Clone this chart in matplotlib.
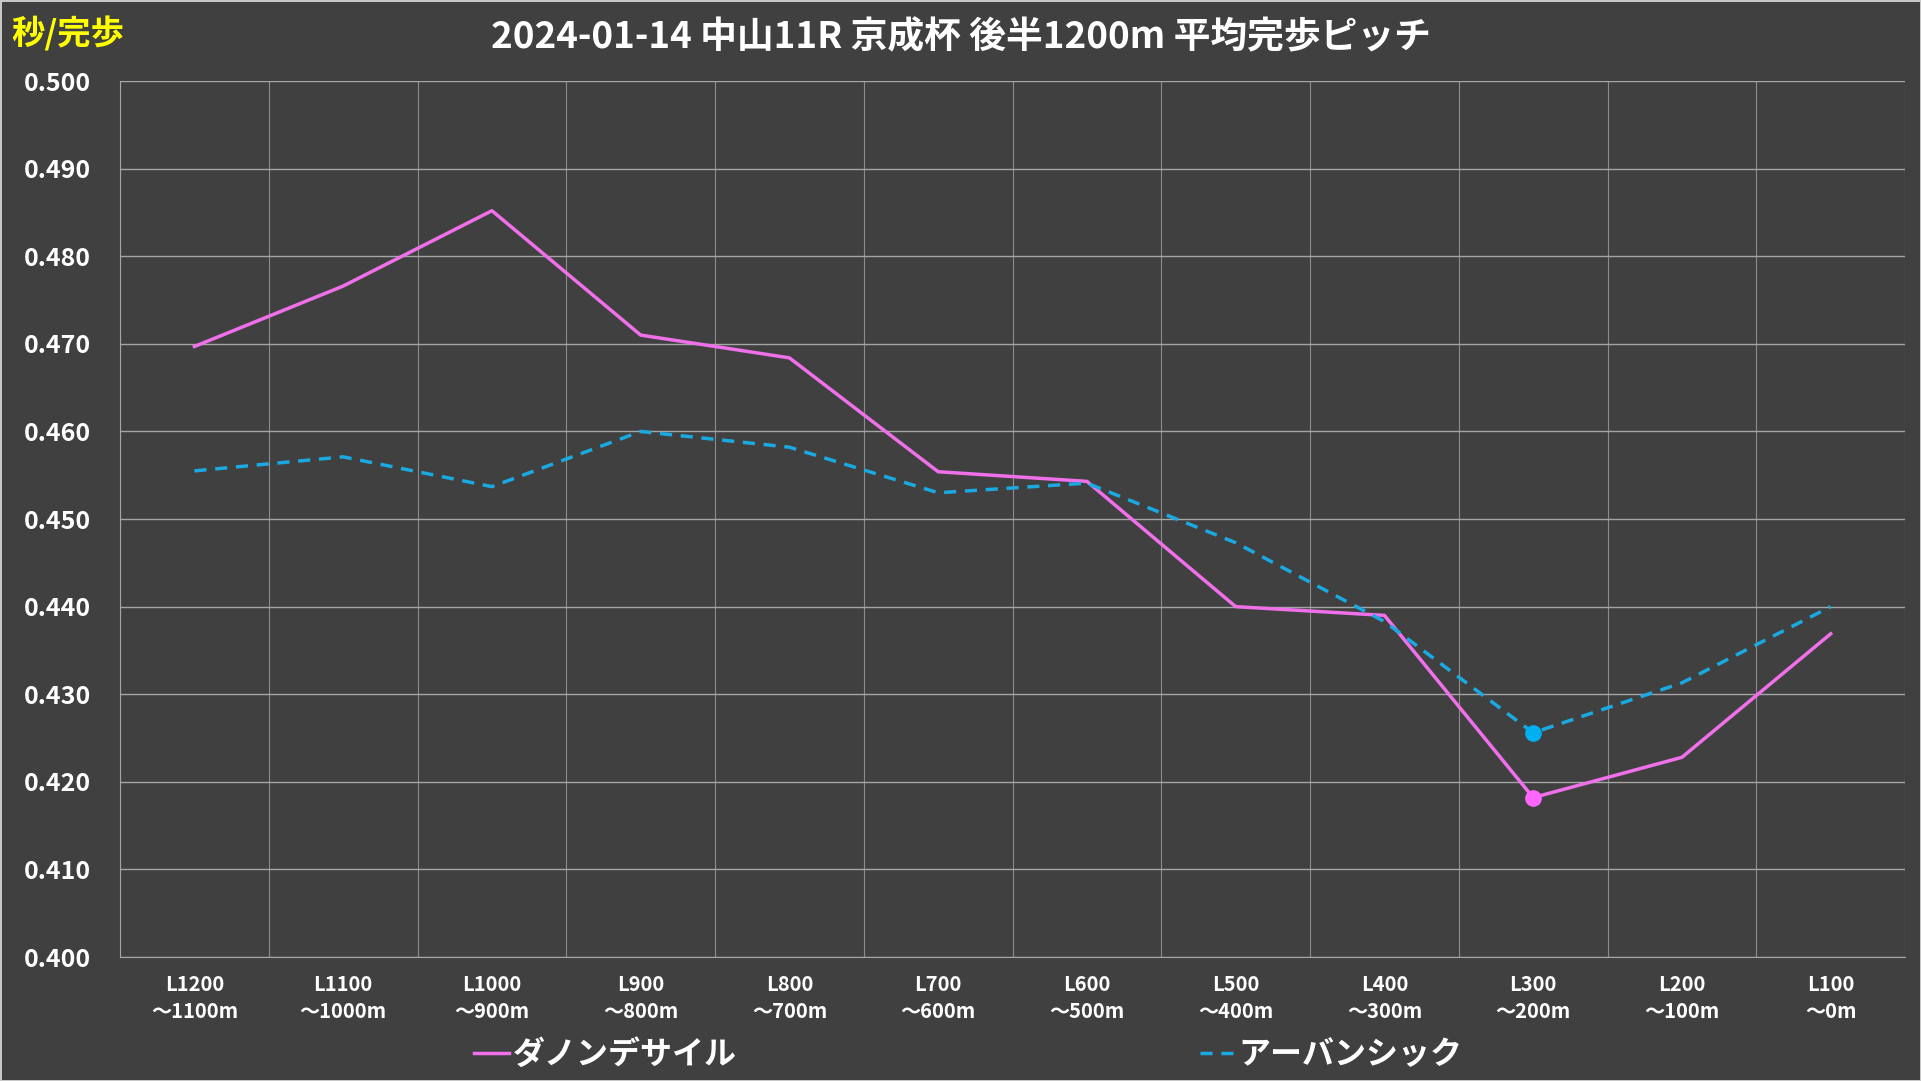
import numpy as np
import matplotlib
matplotlib.use("Agg")
import matplotlib.pyplot as plt

plt.rcParams['font.family'] = ['Noto Sans CJK JP', 'DejaVu Sans']

# データ
sections = ["L1200\n～1100m", "L1100\n～1000m", "L1000\n～900m", "L900\n～800m",
            "L800\n～700m", "L700\n～600m", "L600\n～500m", "L500\n～400m",
            "L400\n～300m", "L300\n～200m", "L200\n～100m", "L100\n～0m"]
danon = [0.4697, 0.4766, 0.4852, 0.4710, 0.4684, 0.4554, 0.4543, 0.4400,
         0.4390, 0.4182, 0.4228, 0.4369]
urban = [0.4555, 0.4571, 0.4537, 0.4600, 0.4582, 0.4530, 0.4541, 0.4473,
         0.4383, 0.4256, 0.4313, 0.4400]
names = ["ダノンデサイル", "アーバンシック"]
yticks = [0.400, 0.410, 0.420, 0.430, 0.440, 0.450, 0.460, 0.470, 0.480, 0.490, 0.500]

bg = '#404040'
pink = '#f070ea'
pink_dot = '#ff66ff'
blue = '#1aa9e0'
blue_dot = '#00b0f0'

fig = plt.figure(figsize=(19.21, 10.81), dpi=100)
fig.patch.set_facecolor(bg)
fig.patch.set_edgecolor('#c8c8c8')
fig.patch.set_linewidth(2)
ax = fig.add_axes([0.0625, 0.1147, 0.9292, 0.8103])
ax.set_facecolor(bg)

x = np.arange(len(sections))
l1, = ax.plot(x, danon, color=pink, lw=2.5, label=names[0])
l2, = ax.plot(x, urban, color=blue, lw=2.5, ls=(0, (3.5, 2.5)), label=names[1])

# 最小値に点
i1 = int(np.argmin(danon))
i2 = int(np.argmin(urban))
ax.plot(x[i1], danon[i1], 'o', color=pink_dot, ms=11, zorder=5)
ax.plot(x[i2], urban[i2], 'o', color=blue_dot, ms=11, zorder=5)

ax.set_xlim(-0.5, len(sections) - 0.5)
ax.set_ylim(0.400, 0.500)
ax.set_yticks(yticks)
ax.set_yticklabels([f"{v:.3f}" for v in yticks], fontsize=18, fontweight='bold', color='white')
ax.set_xticks(x)
ax.set_xticklabels(sections, fontsize=14.5, fontweight='bold', color='white', linespacing=1.4)
ax.set_xticks(np.arange(len(sections) + 1) - 0.5, minor=True)
ax.tick_params(axis='both', which='both', length=0)
ax.tick_params(axis='x', pad=12)
ax.tick_params(axis='y', pad=69)
for lbl in ax.get_yticklabels():
    lbl.set_horizontalalignment('left')

ax.grid(axis='y', color='#a6a6a6', lw=1)
ax.grid(axis='x', which='minor', color='#8c8c8c', lw=0.8)
ax.set_axisbelow(True)
for s in ['top', 'right']:
    ax.spines[s].set_visible(False)
ax.spines['left'].set_color('#a6a6a6')
ax.spines['bottom'].set_color('#a6a6a6')

fig.text(0.5, 0.965, "2024-01-14 中山11R 京成杯 後半1200m 平均完歩ピッチ",
         ha='center', va='center', fontsize=26.5, fontweight='bold', color='white')
fig.text(0.006, 0.969, "秒/完歩", ha='left', va='center', fontsize=24,
         fontweight='bold', color='#ffff00')

leg = fig.legend(handles=[l1, l2], loc='center', bbox_to_anchor=(0.504, 0.024), ncol=2,
                 frameon=False, fontsize=23, handlelength=1.1, handletextpad=0.1,
                 columnspacing=14.5)
for t in leg.get_texts():
    t.set_color('white')
    t.set_fontweight('bold')

fig.savefig("out.png", dpi=100, facecolor=fig.get_facecolor(), edgecolor=fig.get_edgecolor())
